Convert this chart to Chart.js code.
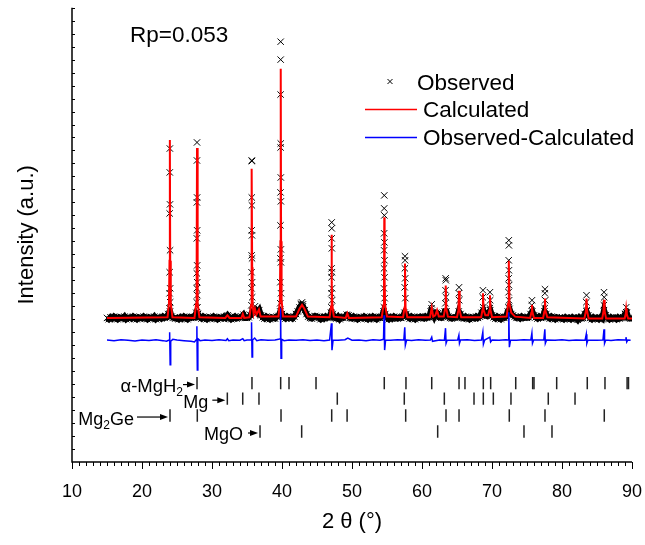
<!DOCTYPE html>
<html>
<head>
<meta charset="utf-8">
<script src="https://cdn.jsdelivr.net/npm/chart.js@4.4.1/dist/chart.umd.min.js"></script>
<style>
    html, body { margin: 0; padding: 0; background: #fff; }
    #wrap { width: 645px; height: 545px; }
</style>
</head>
<body>
<div id="wrap"><canvas id="xrdChart"></canvas></div>
<script>
// observed pattern, baseline part (start 15 deg, step 0.25 deg)
var obsStart = 15;
var obsStep = 0.25;
var obsBase = [
    11.1, 11.0, 11.15, 11.05, 11.2, 11.1, 11.0, 11.15, 11.1, 11.05, 11.2, 11.0, 11.1, 11.15, 11.05, 11.2, 11.1, 11.0, 11.15, 11.1,
    11.05, 11.2, 11.1, 11.0, 11.15, 11.1, 11.05, 11.2, 11.0, 11.1, 11.15, 11.05, 11.2, 11.1, 11.15, 11.4, 11.6, 11.2, 11.1, 11.05,
    11.1, 11.0, 11.15, 11.05, 11.2, 11.1, 11.0, 11.15, 11.1, 11.2, 11.15, 11.5, 11.4, 11.15, 11.05, 11.2, 11.1, 11.0, 11.15, 11.1,
    11.05, 11.2, 11.1, 11.0, 11.15, 11.1, 11.05, 11.2, 11.1, 11.3, 11.15, 11.0, 11.1, 11.2, 11.05, 11.1, 11.15, 11.2, 11.35, 11.1,
    11.1, 11.15, 11.3, 11.6, 11.6, 11.7, 11.5, 11.7, 11.3, 11.15, 11.05, 11.2, 11.1, 11.0, 11.15, 11.1, 11.05, 11.2, 11.25, 11.6,
    11.4, 11.15, 11.05, 11.2, 11.1, 11.15, 11.05, 11.2, 11.4, 11.6, 11.9, 12.1, 12.0, 11.7, 11.4, 11.2, 11.1, 11.05, 11.15, 11.25,
    11.2, 11.1, 11.0, 11.15, 11.05, 11.2, 11.1, 11.15, 11.5, 11.4, 11.1, 11.05, 11.2, 11.0, 11.15, 11.1, 11.2, 11.35, 11.3, 11.1,
    11.05, 11.2, 11.1, 11.0, 11.15, 11.1, 11.05, 11.2, 11.1, 11.0, 11.15, 11.05, 11.2, 11.1, 11.0, 11.15, 11.1, 11.2, 11.6, 11.4,
    11.1, 11.0, 11.15, 11.05, 11.2, 11.1, 11.05, 11.15, 11.1, 11.2, 11.5, 11.4, 11.15, 11.05, 11.2, 11.1, 11.0, 11.15, 11.1, 11.2,
    11.1, 11.05, 11.2, 11.1, 11.15, 11.6, 11.5, 11.2, 11.5, 11.45, 11.15, 11.1, 11.2, 11.6, 11.6, 11.2, 11.1, 11.05, 11.15, 11.1,
    11.15, 11.6, 11.4, 11.1, 11.05, 11.2, 11.1, 11.0, 11.15, 11.1, 11.05, 11.2, 11.1, 11.2, 11.5, 11.7, 11.3, 11.25, 11.5, 11.7,
    11.3, 11.15, 11.05, 11.2, 11.1, 11.0, 11.15, 11.1, 11.2, 11.6, 11.8, 11.4, 11.3, 11.2, 11.1, 11.15, 11.05, 11.2, 11.1, 11.15,
    11.1, 11.15, 11.4, 11.6, 11.3, 11.15, 11.05, 11.2, 11.1, 11.15, 11.6, 11.4, 11.15, 11.05, 11.2, 11.1, 11.0, 11.15, 11.1, 11.05,
    11.1, 11.0, 11.15, 11.05, 11.1, 11.0, 11.15, 11.05, 11.1, 10.95, 11.15, 11.05, 11.1, 11.4, 11.6, 11.3, 11.1, 11.0, 11.15, 11.05,
    11.1, 11.0, 11.15, 11.05, 11.7, 11.3, 11.1, 11.0, 11.15, 11.05, 11.1, 11.0, 11.15, 11.05, 11.1, 11.15, 11.4, 11.5, 11.1, 11.05,
    11.05
];

// observed points on the peaks
var obsPeakX = [
    23.98, 23.97, 24.0, 23.95, 24.01, 23.95, 24.02, 23.94, 24.03, 23.92,
    27.86, 27.85, 27.87, 27.84, 27.88, 27.83, 27.88, 27.82, 27.89, 27.82, 27.9, 27.8, 27.92,
    35.69, 35.7, 35.68, 35.7, 35.67, 35.71, 35.66, 35.72, 35.65, 35.73, 35.64, 35.74, 35.63,
    36.14,
    39.81, 39.81, 39.8, 39.82, 39.8, 39.83, 39.79, 39.84, 39.78, 39.84, 39.77, 39.85, 39.76, 39.86, 39.75,
    42.7, 42.86, 43.0,
    47.1, 47.11, 47.09, 47.12, 47.08, 47.13, 47.07, 47.14, 47.06, 47.15, 47.05,
    54.61, 54.6, 54.62, 54.59, 54.63, 54.58, 54.64, 54.57, 54.65, 54.56, 54.66, 54.55,
    57.57, 57.58, 57.55, 57.6, 57.53, 57.62,
    61.39, 61.36,
    63.38, 63.41, 63.36, 63.43, 63.34,
    65.29, 65.27, 65.32,
    68.71, 68.68, 68.74,
    69.71, 69.74, 69.68,
    72.4, 72.41, 72.39, 72.42, 72.38, 72.43, 72.37, 72.44, 72.36,
    75.71, 75.68,
    77.57, 77.55, 77.6, 77.53,
    83.5, 83.47, 83.53,
    86.0, 86.03, 85.97,
    89.17, 89.2
];
var obsPeakY = [
    24.15, 22.31, 19.85, 19.15, 16.31, 14.62, 13.38, 13.0, 12.31, 11.85,
    24.62, 23.23, 20.38, 20.0, 17.85, 17.23, 15.15, 14.54, 13.85, 13.38, 12.85, 12.31, 11.92,
    23.23, 23.18, 20.38, 19.77, 17.85, 17.46, 15.92, 15.69, 14.62, 13.85, 13.38, 12.69, 12.08,
    12.0,
    32.38, 31.0, 28.31, 24.54, 24.23, 21.92, 20.77, 20.08, 18.23, 16.38, 15.69, 15.38, 13.85, 13.0, 12.23,
    12.2, 12.3, 12.15,
    18.46, 18.0, 17.23, 16.46, 14.92, 14.62, 14.23, 13.38, 13.0, 12.46, 11.92,
    20.54, 19.54, 19.0, 17.62, 16.92, 16.31, 15.54, 14.92, 14.23, 13.38, 12.62, 11.92,
    15.85, 15.54, 14.92, 14.15, 13.46, 12.62,
    12.15, 11.85,
    14.15, 14.0, 13.23, 12.69, 12.23,
    13.46, 13.0, 12.46,
    13.23, 12.69, 11.92,
    13.08, 12.46, 11.85,
    17.08, 16.69, 15.54, 14.77, 14.15, 13.62, 13.08, 12.46, 11.92,
    12.46, 12.08,
    13.31, 13.0, 12.46, 11.85,
    12.85, 12.31, 11.69,
    13.08, 12.69, 12.08,
    11.92, 11.54
];

// calculated profile
var calcX = [
    15, 23.65, 23.85, 23.93, 23.98, 24.03, 24.11, 24.35,
    27.5, 27.73, 27.81, 27.86, 27.91, 27.99, 28.2,
    31.9, 32.2, 32.5, 34.2, 34.4, 34.6,
    35.35, 35.58, 35.64, 35.69, 35.74, 35.8, 35.95, 36.14, 36.35, 36.71, 36.95,
    39.5, 39.7, 39.77, 39.82, 39.87, 39.94, 40.15,
    42.0, 42.5, 42.86, 43.2, 43.7,
    46.8, 47.02, 47.07, 47.1, 47.14, 47.2, 47.4,
    49.1, 49.33, 49.55,
    54.25, 54.5, 54.57, 54.61, 54.66, 54.73, 55.0,
    57.3, 57.5, 57.57, 57.65, 57.9,
    61.15, 61.39, 61.6, 61.9, 62.15, 62.4,
    63.1, 63.3, 63.39, 63.48, 63.7,
    65.0, 65.2, 65.29, 65.38, 65.6,
    68.45, 68.63, 68.71, 68.8, 69.05, 69.45, 69.63, 69.71, 69.8, 70.0,
    72.1, 72.3, 72.4, 72.5, 72.75, 73.3,
    75.45, 75.62, 75.71, 75.8, 76.0,
    77.3, 77.48, 77.57, 77.66, 77.9,
    83.2, 83.4, 83.5, 83.6, 83.8,
    85.75, 85.92, 86.0, 86.1, 86.3,
    88.95, 89.1, 89.17, 89.25, 89.45, 90
];
var calcY = [
    11.1, 11.15, 12.2, 15.5, 24.8, 15.5, 12.2, 11.15,
    11.1, 12.2, 15.3, 24.2, 15.3, 12.2, 11.15,
    11.1, 11.3, 11.1, 11.1, 11.4, 11.1,
    11.15, 12.1, 15.0, 22.6, 15.0, 12.1, 11.4, 11.8, 11.35, 11.75, 11.2,
    11.2, 12.5, 17.0, 30.3, 17.0, 12.5, 11.2,
    11.2, 11.8, 12.1, 11.8, 11.2,
    11.15, 12.0, 13.8, 17.5, 13.8, 12.0, 11.2,
    11.1, 11.45, 11.1,
    11.15, 12.1, 14.0, 18.85, 14.0, 12.1, 11.2,
    11.15, 11.9, 15.3, 11.9, 11.15,
    11.15, 11.9, 11.2, 11.3, 11.7, 11.2,
    11.2, 11.8, 13.6, 11.8, 11.2,
    11.15, 11.7, 13.2, 11.7, 11.15,
    11.15, 11.7, 13.0, 11.7, 11.3, 11.3, 11.7, 12.85, 11.7, 11.15,
    11.2, 12.2, 15.5, 12.2, 11.5, 11.2,
    11.1, 11.5, 12.1, 11.5, 11.1,
    11.1, 11.6, 12.6, 11.6, 11.15,
    11.05, 11.6, 12.6, 11.6, 11.05,
    11.05, 11.6, 12.5, 11.6, 11.05,
    11.05, 11.4, 11.8, 11.4, 11.05, 11.05
];

// observed - calculated
var diffX = [
    15, 16, 17, 18, 19, 20, 21, 22, 23, 23.5, 23.88, 23.95, 24.02, 24.1, 24.4,
    25, 26, 27, 27.5, 27.8, 27.84, 27.9, 27.98, 28.3,
    29, 30, 31, 32, 32.2, 32.4, 33, 34, 34.4, 34.6, 35,
    35.6, 35.65, 35.72, 35.8, 36.1, 36.4, 37, 38, 39, 39.5,
    39.76, 39.8, 39.86, 39.95, 40.3, 41, 42, 43, 44, 45, 46,
    46.8, 47.06, 47.14, 47.3, 48, 49, 49.4, 50, 51, 52, 53, 54,
    54.5, 54.58, 54.66, 54.8, 55.5, 56.5, 57.4, 57.54, 57.62, 57.8,
    58.5, 59.5, 60.5, 61.2, 61.39, 61.5, 62.5, 63.2, 63.36, 63.44, 63.6,
    64.5, 65.1, 65.27, 65.35, 65.5, 66.5, 67.5, 68.5, 68.69, 68.77, 68.95,
    69.69, 69.8, 70, 71, 72, 72.3, 72.4, 72.48, 72.65, 73.5, 74.5,
    75.55, 75.7, 75.78, 75.95, 77.4, 77.55, 77.62, 77.8, 79, 80, 81, 82,
    83.3, 83.47, 83.55, 83.7, 85, 85.85, 86.0, 86.08, 86.25, 87, 88,
    89.05, 89.14, 89.25, 89.4, 89.8
];
var diffY = [
    9.4, 9.35, 9.42, 9.38, 9.33, 9.4, 9.36, 9.42, 9.35, 9.3, 9.4, 10.0, 7.5, 9.3, 9.45,
    9.4, 9.35, 9.3, 9.25, 9.45, 10.46, 7.08, 9.5, 9.35,
    9.4, 9.37, 9.42, 9.36, 9.5, 9.35, 9.4, 9.38, 9.5, 9.35, 9.4,
    9.4, 10.77, 8.08, 9.4, 9.55, 9.35, 9.42, 9.38, 9.4, 9.45,
    9.5, 11.85, 8.0, 9.45, 9.35, 9.4, 9.38, 9.42, 9.36, 9.4, 9.35,
    9.4, 10.69, 8.62, 9.4, 9.38, 9.42, 9.55, 9.38, 9.4, 9.35, 9.42, 9.38,
    9.45, 11.31, 8.62, 9.4, 9.38, 9.42, 9.4, 10.38, 9.0, 9.4,
    9.36, 9.42, 9.38, 9.4, 9.62, 9.3, 9.4, 9.38, 10.31, 9.15, 9.4,
    9.38, 9.4, 9.77, 9.15, 9.4, 9.42, 9.36, 9.4, 10.0, 9.08, 9.4,
    9.62, 9.25, 9.4, 9.38, 9.42, 9.4, 11.54, 8.85, 9.4, 9.38, 9.42,
    9.4, 9.92, 9.15, 9.4, 9.4, 10.23, 9.15, 9.4, 9.38, 9.42, 9.36, 9.4,
    9.38, 9.85, 9.15, 9.4, 9.38, 9.4, 10.23, 9.15, 9.4, 9.36, 9.42,
    9.4, 9.62, 9.25, 9.4, 9.38
];

// reflection positions of each phase (2 theta)
var mgh2Pos = [27.86, 35.71, 39.81, 41.0, 44.86, 54.61, 57.71, 61.39, 65.29, 66.14, 68.76, 69.81, 73.39, 75.81, 76.0, 79.24, 83.61, 86.14, 89.3, 89.5];
var mgPos = [32.19, 34.39, 36.71, 47.9, 57.47, 63.19, 67.43, 68.76, 70.19, 72.71, 78.04, 81.86];
var mg2gePos = [24.0, 27.9, 39.86, 47.1, 49.3, 57.67, 63.43, 65.29, 72.47, 77.57, 86.04];
var mgoPos = [36.86, 42.81, 62.24, 74.57, 78.57];

var xTicks = [10, 20, 30, 40, 50, 60, 70, 80, 90];

var FONT = "'Liberation Sans', Arial, sans-serif";
var tickRowY = [6.08, 4.88, 3.58, 2.35];

function toPoints(xs, ys) {
    var pts = [];
    for (var i = 0; i < xs.length; i++) {
        pts.push({ x: xs[i], y: ys[i] });
    }
    return pts;
}

var obsBasePoints = [];
for (var i = 0; i < obsBase.length; i++) {
    obsBasePoints.push({ x: obsStart + i * obsStep, y: obsBase[i] });
}

function phaseRow(pos, row) {
    return pos.map(function (p) { return { x: p, y: tickRowY[row] }; });
}

function phaseSet(label, pos, row) {
    return {
        label: label,
        data: phaseRow(pos, row),
        showLine: false,
        pointStyle: 'line',
        rotation: 90,
        pointRadius: 6.2,
        borderColor: '#222',
        borderWidth: 1.5,
        order: 4
    };
}

var phaseLabels = [
    { parts: [['α-MgH', 18.5, 0], ['2', 12, 4]], pos: mgh2Pos, row: 0, shaft: 12, gap: 0, dy: 9 },
    { parts: [['Mg', 18, 0]], pos: mgPos, row: 1, shaft: 13, gap: 4, dy: 9.5 },
    { parts: [['Mg', 18, 0], ['2', 12, 4], ['Ge', 18, 0]], pos: mg2gePos, row: 2, shaft: 31, gap: 3, dy: 9.5 },
    { parts: [['MgO', 18, 0]], pos: mgoPos, row: 3, shaft: 10, gap: 5, dy: 8.5 }
];

var decor = {
    id: 'decor',
    afterDraw: function (chart) {
        var ctx = chart.ctx;
        var xs = chart.scales.x, ys = chart.scales.y;
        var a = chart.chartArea;
        ctx.save();
        ctx.strokeStyle = '#000';
        ctx.fillStyle = '#000';
        ctx.lineWidth = 1.5;

        // axes
        ctx.beginPath();
        ctx.moveTo(a.left, a.top);
        ctx.lineTo(a.left, a.bottom);
        ctx.lineTo(a.right, a.bottom);
        ctx.stroke();

        ctx.lineWidth = 1;
        ctx.beginPath();
        ys.ticks.forEach(function (t) {
            if (t.value <= 0) return;
            var y = Math.round(ys.getPixelForValue(t.value)) + 0.5;
            ctx.moveTo(a.left, y);
            ctx.lineTo(a.left + 3, y);
        });
        for (var v = xs.min; v <= xs.max; v++) {
            var x = Math.round(xs.getPixelForValue(v)) + 0.5;
            ctx.moveTo(x, a.bottom);
            ctx.lineTo(x, a.bottom + (v % 10 === 0 ? 7 : 4));
        }
        ctx.stroke();

        // R factor
        ctx.font = '22.5px ' + FONT;
        ctx.textBaseline = 'alphabetic';
        ctx.textAlign = 'left';
        ctx.fillText('Rp=0.053', 130, 42);

        // legend
        ctx.beginPath();
        ctx.moveTo(387.5, 79); ctx.lineTo(392.5, 84);
        ctx.moveTo(392.5, 79); ctx.lineTo(387.5, 84);
        ctx.stroke();
        ctx.fillText('Observed', 417, 89.5);
        ctx.lineWidth = 1.5;
        ctx.strokeStyle = '#ff0000';
        ctx.beginPath(); ctx.moveTo(365, 109.5); ctx.lineTo(417, 109.5); ctx.stroke();
        ctx.strokeStyle = '#0000ff';
        ctx.beginPath(); ctx.moveTo(365, 137.5); ctx.lineTo(417, 137.5); ctx.stroke();
        ctx.fillText('Calculated', 423, 117);
        ctx.fillText('Observed-Calculated', 423, 145);

        // phase labels with arrows
        ctx.strokeStyle = '#000';
        phaseLabels.forEach(function (lb) {
            var tip = xs.getPixelForValue(lb.pos[0]) - 2;
            var row = ys.getPixelForValue(tickRowY[lb.row]);
            var ay = row + 1.5;
            ctx.lineWidth = 1.2;
            ctx.beginPath();
            ctx.moveTo(tip - lb.shaft, ay);
            ctx.lineTo(tip - 6, ay);
            ctx.stroke();
            ctx.beginPath();
            ctx.moveTo(tip, ay);
            ctx.lineTo(tip - 8, ay - 3);
            ctx.lineTo(tip - 8, ay + 3);
            ctx.closePath();
            ctx.fill();

            var total = 0;
            lb.parts.forEach(function (p) {
                ctx.font = p[1] + 'px ' + FONT;
                total += ctx.measureText(p[0]).width;
            });
            var tx = tip - lb.shaft - lb.gap - total;
            var base = row + lb.dy;
            lb.parts.forEach(function (p) {
                ctx.font = p[1] + 'px ' + FONT;
                ctx.fillText(p[0], tx, base + p[2]);
                tx += ctx.measureText(p[0]).width;
            });
        });
        ctx.restore();
    }
};

var ctx = document.getElementById('xrdChart').getContext('2d');
var xrdChart = new Chart(ctx, {
    type: 'scatter',
    data: {
        datasets: [
            {
                // dense observed points merge into a band along the background
                label: 'Observed',
                data: obsBasePoints,
                showLine: true,
                borderColor: '#000',
                borderWidth: 6,
                pointStyle: 'crossRot',
                pointRadius: 4.5,
                pointBorderColor: '#000',
                pointBorderWidth: 1,
                order: 3
            },
            {
                label: 'Observed peaks',
                data: toPoints(obsPeakX, obsPeakY),
                showLine: false,
                pointStyle: 'crossRot',
                pointRadius: 4.5,
                borderColor: '#000',
                borderWidth: 1,
                order: 3
            },
            {
                label: 'Calculated',
                data: toPoints(calcX, calcY),
                showLine: true,
                pointRadius: 0,
                borderColor: '#ff0000',
                borderWidth: 2,
                tension: 0,
                order: 1
            },
            {
                label: 'Observed-Calculated',
                data: toPoints(diffX, diffY),
                showLine: true,
                pointRadius: 0,
                borderColor: '#0000ff',
                borderWidth: 1.5,
                tension: 0,
                order: 2
            },
            phaseSet('α-MgH2', mgh2Pos, 0),
            phaseSet('Mg', mgPos, 1),
            phaseSet('Mg2Ge', mg2gePos, 2),
            phaseSet('MgO', mgoPos, 3)
        ]
    },
    options: {
        responsive: true,
        maintainAspectRatio: false,
        animation: false,
        layout: { padding: { top: 7, right: 13, left: 0, bottom: 0 } },
        plugins: {
            legend: { display: false },
            tooltip: { enabled: false }
        },
        scales: {
            x: {
                type: 'linear',
                min: 10,
                max: 90,
                afterBuildTicks: function (scale) {
                    scale.ticks = xTicks.map(function (v) { return { value: v }; });
                },
                ticks: { color: '#000', font: { size: 18, family: FONT }, padding: 19, maxRotation: 0, autoSkip: false },
                grid: { display: false, drawTicks: false },
                border: { display: false },
                title: { display: true, text: '2 θ (°)', color: '#000', font: { size: 22, family: FONT }, padding: { top: 0, bottom: 10 } },
                afterFit: function (scale) {
                    scale.height = 83;
                    scale.paddingLeft = 0;
                    scale.paddingRight = 0;
                }
            },
            y: {
                min: 0,
                max: 35,
                ticks: { display: false, stepSize: 1 },
                grid: { display: false, drawTicks: false },
                border: { display: false },
                title: { display: true, text: 'Intensity (a.u.)', color: '#000', font: { size: 22, family: FONT }, padding: { top: 14, bottom: 0 } },
                afterFit: function (scale) { scale.width = 72; }
            }
        }
    },
    plugins: [decor]
});
</script>
</body>
</html>
